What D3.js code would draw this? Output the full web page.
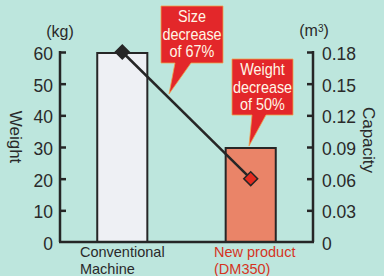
<!DOCTYPE html>
<html>
<head>
<meta charset="utf-8">
<script src="https://cdn.jsdelivr.net/npm/d3@7"></script>
<style>
  html, body { margin: 0; padding: 0; background: #bde6dd; }
  svg { display: block; }
  text { font-family: "Liberation Sans", Arial, sans-serif; }
</style>
</head>
<body>
<div id="chart"></div>
<script>
// chart data
const categories = ['Conventional\nMachine', 'New product\n(DM350)'];
const weights = [60, 30];            // kg, bars
const capacities = [0.18, 0.06];     // m3, line
const weightTicks = [0, 10, 20, 30, 40, 50, 60];
const capacityTicks = [0, 0.03, 0.06, 0.09, 0.12, 0.15, 0.18];
const callouts = ['Size\ndecrease\nof 67%', 'Weight\ndecrease\nof 50%'];

const width = 384, height = 276;
const plotLeft = 60, plotRight = 313, plotTop = 52, plotBottom = 242;

const svg = d3.select('#chart').append('svg')
    .attr('width', width)
    .attr('height', height);

svg.append('rect')
    .attr('width', width).attr('height', height)
    .attr('fill', '#bde6dd');

let x = d3.scaleBand()
    .domain(categories)
    .range([plotLeft, plotRight])
    .paddingInner(0.61)
    .paddingOuter(0.29);

let yW = d3.scaleLinear().domain([0, 60]).range([plotBottom, plotTop]);
let yC = d3.scaleLinear().domain([0, 0.18]).range([plotBottom, plotTop]);

const ink = '#262626';
const textInk = '#2a2a2a';

// bars
svg.append('g').selectAll('rect')
    .data(weights)
    .join('rect')
    .attr('x', (d, i) => x(categories[i]))
    .attr('y', d => yW(d) + 1)
    .attr('width', x.bandwidth())
    .attr('height', d => plotBottom - yW(d) - 1)
    .attr('fill', (d, i) => i === 0 ? '#eef0f4' : '#ea8468')
    .attr('stroke', ink)
    .attr('stroke-width', 2);

// axes
let leftAxis = d3.axisRight(yW).tickValues(weightTicks).tickSize(6).tickFormat('');
let rightAxis = d3.axisLeft(yC).tickValues(capacityTicks).tickSize(6).tickFormat('');

let gl = svg.append('g').attr('transform', `translate(${plotLeft},0)`).call(leftAxis);
let gr = svg.append('g').attr('transform', `translate(${plotRight},0)`).call(rightAxis);
[gl, gr].forEach(g => {
    g.select('.domain').attr('stroke', ink).attr('stroke-width', 2.5)
        .attr('d', `M0,${plotTop - 1}V${plotBottom}`);
    g.selectAll('.tick line').attr('stroke', ink).attr('stroke-width', 2.5);
    g.selectAll('.tick').filter(d => d === 0).remove();
});

svg.append('line')
    .attr('x1', plotLeft - 1).attr('x2', plotRight + 1)
    .attr('y1', plotBottom).attr('y2', plotBottom)
    .attr('stroke', ink).attr('stroke-width', 2.5);

// tick labels
svg.append('g').selectAll('text')
    .data(weightTicks)
    .join('text')
    .attr('x', 53)
    .attr('y', d => yW(d) + 8)
    .attr('text-anchor', 'end')
    .attr('font-size', 17.5)
    .attr('fill', textInk)
    .text(d => d);

svg.append('g').selectAll('text')
    .data(capacityTicks)
    .join('text')
    .attr('x', 322)
    .attr('y', d => yC(d) + 8)
    .attr('font-size', 17.5)
    .attr('fill', textInk)
    .text(d => d === 0 ? '0' : d3.format('.2f')(d));

// units
svg.append('text')
    .attr('x', 60).attr('y', 37)
    .attr('text-anchor', 'middle')
    .attr('font-size', 16)
    .attr('fill', textInk)
    .text('(kg)');

let mt = svg.append('text')
    .attr('x', 314).attr('y', 36)
    .attr('text-anchor', 'middle')
    .attr('font-size', 16)
    .attr('fill', textInk);
mt.append('tspan').text('(m');
mt.append('tspan').attr('font-size', 10).attr('dy', -4).text('3');
mt.append('tspan').attr('dy', 4).text(')');

// axis titles
svg.append('text')
    .attr('transform', 'translate(10,137) rotate(90)')
    .attr('text-anchor', 'middle')
    .attr('font-size', 17)
    .attr('fill', textInk)
    .text('Weight');

svg.append('text')
    .attr('transform', 'translate(363,140) rotate(90)')
    .attr('text-anchor', 'middle')
    .attr('font-size', 17)
    .attr('fill', textInk)
    .text('Capacity');

// category labels, two left-aligned lines centred on the bar
categories.forEach((c, i) => {
    let lines = c.split('\n');
    let t = svg.append('text')
        .attr('font-size', 14.5)
        .attr('fill', i === 0 ? textInk : '#d5341f');
    lines.forEach((l, j) => {
        t.append('tspan').attr('x', 0).attr('y', 257 + j * 16.7).text(l);
    });
    let w = t.select('tspan').node().getComputedTextLength();
    let cx = x(c) + x.bandwidth() / 2 + (i === 0 ? 0 : 4);
    t.attr('transform', `translate(${cx - w / 2},0)`);
});

// capacity line
let pts = capacities.map((d, i) => [x(categories[i]) + x.bandwidth() / 2, yC(d)]);
svg.append('path')
    .attr('d', d3.line()(pts))
    .attr('fill', 'none')
    .attr('stroke', ink)
    .attr('stroke-width', 2.5);

svg.append('g').selectAll('path')
    .data(pts)
    .join('path')
    .attr('transform', d => `translate(${d[0]},${d[1]}) rotate(45)`)
    .attr('d', d3.symbol(d3.symbolSquare, 96))
    .attr('fill', (d, i) => i === 0 ? ink : '#e42b1f')
    .attr('stroke', ink)
    .attr('stroke-width', 1.5);

// callouts
const boxes = [
    {x0: 161, y0: 6, w: 62, h: 57, tip: [169, 94], base: [175, 191]},
    {x0: 232, y0: 59, w: 61, h: 56, tip: [249, 146], base: [252, 266]}
];
callouts.forEach((txt, i) => {
    let b = boxes[i];
    let g = svg.append('g');
    let p = d3.path();
    p.moveTo(b.x0, b.y0);
    p.lineTo(b.x0 + b.w, b.y0);
    p.lineTo(b.x0 + b.w, b.y0 + b.h);
    p.lineTo(b.base[1], b.y0 + b.h);
    p.lineTo(b.tip[0], b.tip[1]);
    p.lineTo(b.base[0], b.y0 + b.h);
    p.lineTo(b.x0, b.y0 + b.h);
    p.closePath();
    g.append('path')
        .attr('d', p.toString())
        .attr('fill', '#e3272a')
        .attr('stroke', '#f0a24a')
        .attr('stroke-width', 0.8);
    let cx = b.x0 + b.w / 2;
    let t = g.append('text')
        .attr('text-anchor', 'middle')
        .attr('font-size', 16)
        .attr('fill', '#fff6e6')
        .attr('transform', `translate(${cx},0) scale(0.9,1)`);
    txt.split('\n').forEach((l, j) => {
        t.append('tspan')
            .attr('x', 0)
            .attr('y', b.y0 + 16.5 + j * 17.5)
            .text(l);
    });
});
</script>
</body>
</html>
